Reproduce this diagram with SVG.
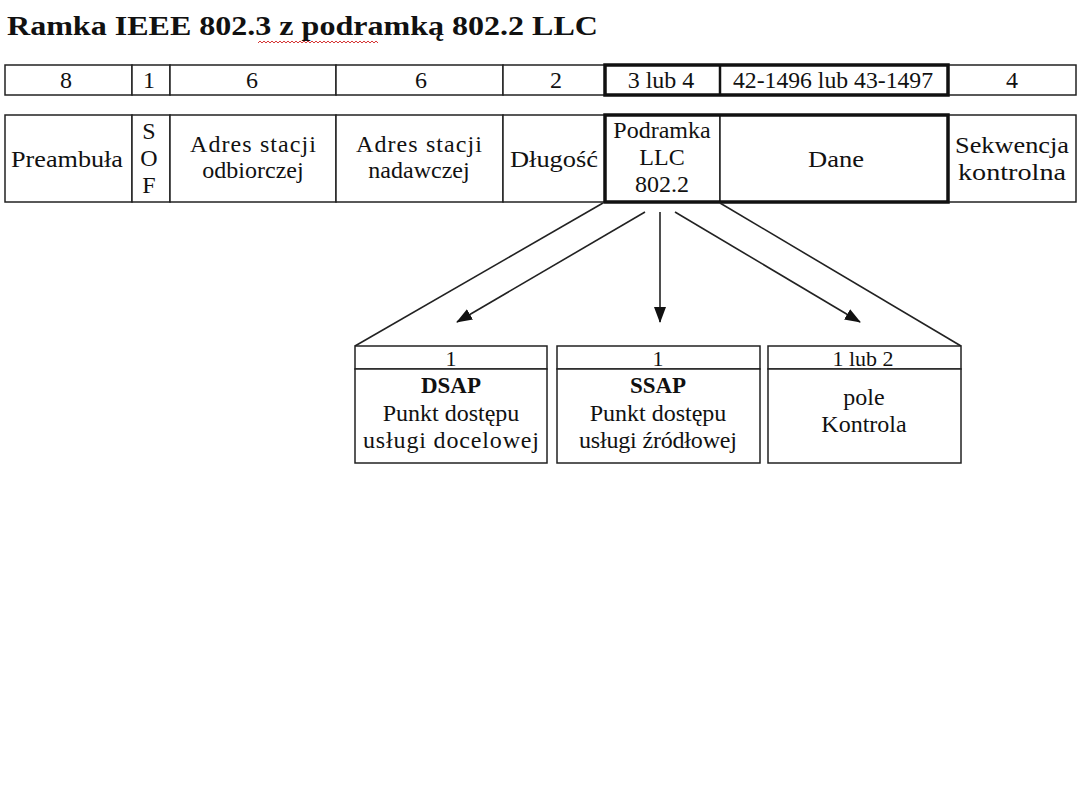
<svg xmlns="http://www.w3.org/2000/svg" width="1080" height="810" viewBox="0 0 1080 810">
<style>
.t{font-family:"Liberation Serif","Times New Roman",serif;font-size:24px;fill:#111;text-anchor:middle}
.s{font-size:22px}
.b{font-weight:bold;font-size:23px}
.title{font-family:"Liberation Serif","Times New Roman",serif;font-size:28px;font-weight:bold;fill:#111}
.cell{fill:#fff;stroke:#222;stroke-width:1.5}
.thick{fill:none;stroke:#111;stroke-width:3.5}
.ln{fill:none;stroke:#222;stroke-width:1.6}
</style>
<defs>
<marker id="ah" markerWidth="16" markerHeight="12" refX="15" refY="6" orient="auto" markerUnits="userSpaceOnUse">
<path d="M0,0 L16,6 L0,12 z" fill="#111"/>
</marker>
<pattern id="sq" x="258" y="40" width="4" height="4" patternUnits="userSpaceOnUse">
<path d="M0,3 L2,1 L4,3" fill="none" stroke="#d02020" stroke-width="0.9"/>
</pattern>
</defs>
<rect width="1080" height="810" fill="#fff"/>

<g id="title">
<text class="title" x="7" y="35" textLength="591" lengthAdjust="spacingAndGlyphs">Ramka IEEE 802.3 z podramką 802.2 LLC</text>
<rect x="258" y="40" width="120" height="4" fill="url(#sq)"/>
</g>

<g id="sizes">
<g id="s-preamble"><rect class="cell" x="5" y="65" width="127" height="30"/><text class="t" x="66" y="88">8</text></g>
<g id="s-sof"><rect class="cell" x="132" y="65" width="38" height="30"/><text class="t" x="149" y="88">1</text></g>
<g id="s-dst"><rect class="cell" x="170" y="65" width="166" height="30"/><text class="t" x="252" y="88">6</text></g>
<g id="s-src"><rect class="cell" x="336" y="65" width="167" height="30"/><text class="t" x="421" y="88">6</text></g>
<g id="s-len"><rect class="cell" x="503" y="65" width="102" height="30"/><text class="t" x="556" y="88">2</text></g>
<g id="s-llc"><rect class="cell" x="605" y="65" width="115" height="30"/><text class="t" x="661" y="88">3 lub 4</text></g>
<g id="s-data"><rect class="cell" x="720" y="65" width="228" height="30"/><text class="t" x="833" y="88" textLength="200" lengthAdjust="spacingAndGlyphs">42-1496 lub 43-1497</text></g>
<g id="s-fcs"><rect class="cell" x="948" y="65" width="128" height="30"/><text class="t" x="1012" y="88">4</text></g>
</g>

<g id="fields">
<g id="f-preamble"><rect class="cell" x="5" y="115" width="127" height="87"/><text class="t" x="67" y="167" textLength="112" lengthAdjust="spacingAndGlyphs">Preambuła</text></g>
<g id="f-sof"><rect class="cell" x="132" y="115" width="38" height="87"/>
<text class="t" x="149" y="139">S</text><text class="t" x="149" y="166">O</text><text class="t" x="149" y="193">F</text></g>
<g id="f-dst"><rect class="cell" x="170" y="115" width="166" height="87"/>
<text class="t" x="253" y="152" textLength="126" lengthAdjust="spacing">Adres stacji</text><text class="t" x="253" y="178">odbiorczej</text></g>
<g id="f-src"><rect class="cell" x="336" y="115" width="167" height="87"/>
<text class="t" x="419" y="152" textLength="126" lengthAdjust="spacing">Adres stacji</text><text class="t" x="419" y="178">nadawczej</text></g>
<g id="f-len"><rect class="cell" x="503" y="115" width="102" height="87"/><text class="t" x="554" y="167" textLength="88" lengthAdjust="spacingAndGlyphs">Długość</text></g>
<g id="f-llc"><rect class="cell" x="605" y="115" width="115" height="87"/>
<text class="t" x="662" y="138">Podramka</text><text class="t" x="662" y="165">LLC</text><text class="t" x="662" y="192">802.2</text></g>
<g id="f-data"><rect class="cell" x="720" y="115" width="228" height="87"/><text class="t" x="836" y="167" textLength="56" lengthAdjust="spacingAndGlyphs">Dane</text></g>
<g id="f-fcs"><rect class="cell" x="948" y="115" width="128" height="87"/>
<text class="t" x="1012" y="153" textLength="114" lengthAdjust="spacingAndGlyphs">Sekwencja</text><text class="t" x="1012" y="180" textLength="108" lengthAdjust="spacingAndGlyphs">kontrolna</text></g>
</g>

<g id="llc-highlight">
<rect class="thick" x="605" y="65" width="343" height="30"/>
<line x1="720" y1="65" x2="720" y2="95" stroke="#111" stroke-width="2.5"/>
<rect class="thick" x="605" y="115" width="343" height="87"/>
</g>

<g id="connectors">
<line class="ln" x1="603" y1="203" x2="355" y2="346"/>
<line class="ln" x1="720" y1="203" x2="961" y2="346"/>
<line class="ln" x1="645" y1="212" x2="457" y2="322" marker-end="url(#ah)"/>
<line class="ln" x1="660" y1="212" x2="660" y2="322" marker-end="url(#ah)"/>
<line class="ln" x1="675" y1="212" x2="860" y2="322" marker-end="url(#ah)"/>
</g>

<g id="dsap">
<rect class="cell" x="355" y="346" width="192" height="23"/>
<rect class="cell" x="355" y="369" width="192" height="94"/>
<text class="t s" x="451" y="366">1</text>
<text class="t b" x="451" y="393">DSAP</text>
<text class="t" x="451" y="421">Punkt dostępu</text>
<text class="t" x="451" y="448" textLength="176" lengthAdjust="spacing">usługi docelowej</text>
</g>

<g id="ssap">
<rect class="cell" x="557" y="346" width="203" height="23"/>
<rect class="cell" x="557" y="369" width="203" height="94"/>
<text class="t s" x="658" y="366">1</text>
<text class="t b" x="658" y="393">SSAP</text>
<text class="t" x="658" y="421">Punkt dostępu</text>
<text class="t" x="658" y="448" textLength="158" lengthAdjust="spacing">usługi źródłowej</text>
</g>

<g id="control">
<rect class="cell" x="768" y="346" width="193" height="23"/>
<rect class="cell" x="768" y="369" width="193" height="94"/>
<text class="t s" x="863" y="366">1 lub 2</text>
<text class="t" x="864" y="405">pole</text>
<text class="t" x="864" y="432">Kontrola</text>
</g>
</svg>
